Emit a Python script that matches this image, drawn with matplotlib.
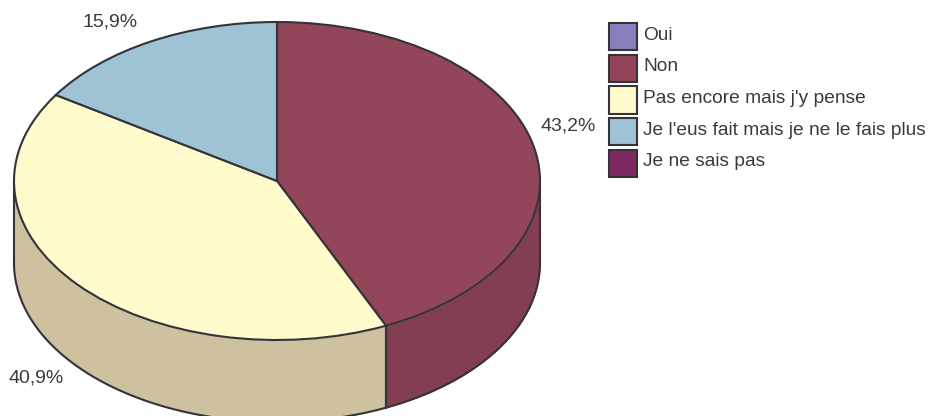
import numpy as np
import matplotlib
matplotlib.use("Agg")
import matplotlib.pyplot as plt
from matplotlib.patches import Patch

plt.rcParams['font.family'] = ['Liberation Sans', 'DejaVu Sans']

categories = ["Oui", "Non", "Pas encore mais j'y pense",
              "Je l'eus fait mais je ne le fais plus", "Je ne sais pas"]
values = [0.0, 43.2, 40.9, 15.9, 0.0]

top_colors = ["#8880BC", "#93455A", "#FFFBCC", "#9DC3D4", "#7E2860"]
side_colors = ["#6F689A", "#833F51", "#CDC1A0", "#7F9EAC", "#66204E"]
edge = "#333338"
text_color = "#3A3A3A"

W, H = 929, 416
cx, cy, rx, ry, depth = 277.0, 181.0, 263.0, 159.0, 82.0

fig = plt.figure(figsize=(W / 100, H / 100), dpi=100)
ax = fig.add_axes([0, 0, 1, 1])

# Pie drawn on a unit circle; the axis limits squash it into the ellipse.
ax.pie(values, colors=top_colors, startangle=90, counterclock=False, radius=1,
       center=(0, 0), wedgeprops=dict(edgecolor=edge, linewidth=1.5, zorder=5))
ax.set_aspect('auto')
ax.set_xlim((0 - cx) / rx, (W - cx) / rx)
ax.set_ylim((cy - H) / ry, cy / ry)
ax.axis('off')

# Extruded wall: the part of each slice that faces the viewer.
d = depth / ry
cum = np.concatenate([[0], np.cumsum(values)]) / sum(values) * 360
for i in range(len(values)):
    a0, a1 = max(cum[i], 90), min(cum[i + 1], 270)
    if a1 <= a0:
        continue
    th = np.radians(np.linspace(a0, a1, 200))
    x, y = np.sin(th), np.cos(th)
    ax.fill_between(x, y, y - d, color=side_colors[i], linewidth=0, zorder=2)
    ax.plot(x, y - d, color=edge, lw=1.5, zorder=3)
    for a in (a0, a1):
        t = np.radians(a)
        ax.plot([np.sin(t)] * 2, [np.cos(t), np.cos(t) - d],
                color=edge, lw=1.5, zorder=3)

# Value labels, at pixel positions
label_pos = {1: (568, 126), 2: (36, 378), 3: (110, 22)}
for i, (px, py) in label_pos.items():
    ax.text((px - cx) / rx, (cy - py) / ry, f"{values[i]:.1f}%".replace(".", ","),
            ha='center', va='center', fontsize=14, color=text_color)

handles = [Patch(facecolor=c, edgecolor=edge, linewidth=1.5) for c in top_colors]
fs_pt = 13.8
fs_px = fs_pt * 100 / 72
leg = ax.legend(handles, categories, loc='upper left',
                bbox_to_anchor=(609 / W, 1 - 23 / H), bbox_transform=fig.transFigure,
                frameon=False, fontsize=fs_pt, labelcolor=text_color,
                borderpad=0, borderaxespad=0,
                handlelength=28 / fs_px, handleheight=(28 + 0.35 * fs_px) / fs_px,
                labelspacing=4.4 / fs_px, handletextpad=6 / fs_px)
for t in leg.get_texts():
    t.set_y(3)

fig.savefig("out.png", dpi=100, facecolor="white")
